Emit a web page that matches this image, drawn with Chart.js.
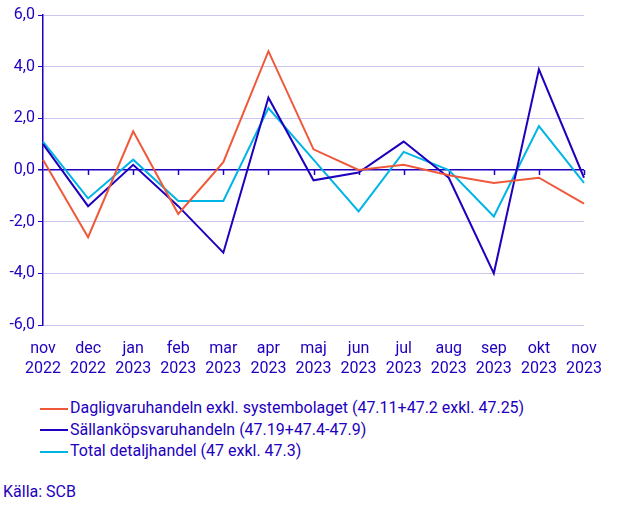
<!DOCTYPE html>
<html>
<head>
<meta charset="utf-8">
<script src="https://cdn.jsdelivr.net/npm/chart.js@4"></script>
<style>
  body { margin: 0; background: #fff; font-family: Roboto, sans-serif; color: #1e00be; }
  #wrap { position: relative; width: 643px; height: 506px; overflow: hidden; }
  #chartBox { position: absolute; left: 0; top: 0; width: 643px; height: 383px; }
  .legend { position: absolute; left: 40px; top: 397px; font-size: 16px; }
  .legend div { height: 21.5px; line-height: 21.5px; white-space: nowrap; }
  .legend span.sw { display: inline-block; width: 28px; height: 2px; vertical-align: middle; margin-right: 2px; }
  .source { position: absolute; left: 3px; top: 482px; font-size: 16px; }
</style>
</head>
<body>
<div id="wrap">
  <div id="chartBox"><canvas id="chart"></canvas></div>
  <div class="legend" id="legend"></div>
  <div class="source">Källa: SCB</div>
</div>
<script>
// categories (month / year)
const months = ['nov', 'dec', 'jan', 'feb', 'mar', 'apr', 'maj', 'jun', 'jul', 'aug', 'sep', 'okt', 'nov'];
const years = ['2022', '2022', '2023', '2023', '2023', '2023', '2023', '2023', '2023', '2023', '2023', '2023', '2023'];

// series values
const dagligvaror = [0.4, -2.6, 1.5, -1.7, 0.3, 4.6, 0.8, 0.0, 0.2, -0.2, -0.5, -0.3, -1.3];
const sallankop = [1.0, -1.4, 0.2, -1.4, -3.2, 2.8, -0.4, -0.1, 1.1, -0.3, -4.0, 3.9, -0.3];
const totalHandel = [1.1, -1.1, 0.4, -1.2, -1.2, 2.4, 0.4, -1.6, 0.7, 0.0, -1.8, 1.7, -0.5];

const seriesNames = [
    'Dagligvaruhandeln exkl. systembolaget (47.11+47.2 exkl. 47.25)',
    'Sällanköpsvaruhandeln (47.19+47.4-47.9)',
    'Total detaljhandel (47 exkl. 47.3)'
];
const seriesColors = ['#f0583a', '#1e00be', '#00b4e6'];

const textColor = '#1e00be';
const gridColor = '#cbc6ef';

// zero line is drawn by the y grid; this adds the small category ticks under it
const zeroTicks = {
    id: 'zeroTicks',
    beforeDatasetsDraw(chart) {
        const ctx = chart.ctx;
        const x = chart.scales.x;
        const y0 = chart.scales.y.getPixelForValue(0);
        ctx.save();
        ctx.strokeStyle = textColor;
        ctx.lineWidth = 1.5;
        for (let i = 1; i < months.length; i++) {
            const px = Math.round(x.getPixelForValue(i)) + 0.5;
            ctx.beginPath();
            ctx.moveTo(px, y0);
            ctx.lineTo(px, y0 + 5);
            ctx.stroke();
        }
        ctx.restore();
    }
};

const labels = months.map((m, i) => [m, years[i]]);

new Chart(document.getElementById('chart'), {
    type: 'line',
    data: {
        labels: labels,
        datasets: [dagligvaror, sallankop, totalHandel].map((d, i) => ({
            label: seriesNames[i],
            data: d,
            borderColor: seriesColors[i],
            backgroundColor: seriesColors[i],
            borderWidth: 2,
            pointRadius: 0,
            tension: 0
        }))
    },
    options: {
        responsive: true,
        maintainAspectRatio: false,
        animation: false,
        layout: { padding: { top: 15, right: 59, left: 0, bottom: 0 } },
        plugins: { legend: { display: false }, tooltip: { enabled: false } },
        scales: {
            x: {
                offset: false,
                grid: { display: false },
                border: { display: false },
                ticks: {
                    color: textColor,
                    font: { family: 'Roboto', size: 16, lineHeight: 1.25 },
                    padding: 6,
                    maxRotation: 0,
                    autoSkip: false
                },
                afterFit(scale) { scale.height = 58; }
            },
            y: {
                min: -6,
                max: 6,
                border: { display: true, color: textColor, width: 1.5 },
                grid: {
                    color: c => (c.tick && c.tick.value === 0 ? textColor : gridColor),
                    lineWidth: c => (c.tick && c.tick.value === 0 ? 1.5 : 1),
                    tickColor: textColor,
                    tickLength: 5
                },
                ticks: {
                    stepSize: 2,
                    color: textColor,
                    font: { family: 'Roboto', size: 16 },
                    padding: 3,
                    callback: v => v.toFixed(1).replace('.', ',')
                },
                afterFit(scale) { scale.width = 43; }
            }
        }
    },
    plugins: [zeroTicks]
});

// simple html legend
const legendEl = document.getElementById('legend');
seriesNames.forEach((name, i) => {
    const row = document.createElement('div');
    row.innerHTML = `<span class="sw" style="background:${seriesColors[i]}"></span>${name}`;
    legendEl.appendChild(row);
});
</script>
</body>
</html>
